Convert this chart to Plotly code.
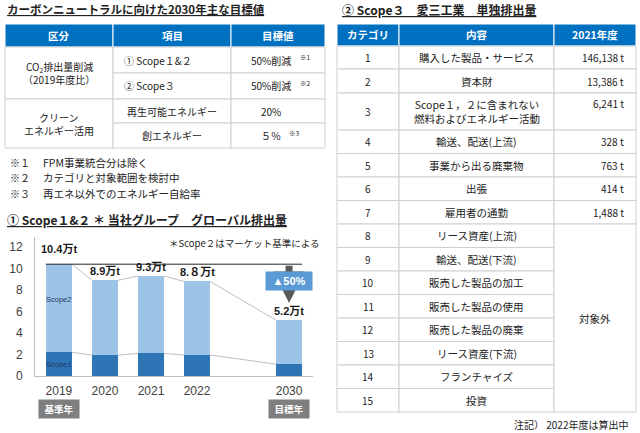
import plotly.graph_objects as go

W, H = 640, 433
JP = "Noto Sans CJK JP"
NUM = "Liberation Sans, Noto Sans CJK JP"

# ---- chart data (Scope1&2, 万t) ----
years = ["2019", "2020", "2021", "2022", "2030"]
year_pos = [0, 1, 2, 3, 5]
scope1 = [2.2, 1.95, 2.1, 1.95, 1.1]
scope2 = [8.2, 6.95, 7.2, 6.85, 4.1]
totals = [10.4, 8.9, 9.3, 8.8, 5.2]
total_labels = ["10.4万t", "8.9万t", "9.3万t", "8.８万t", "5.2万t"]
y_ticks = [0, 2, 4, 6, 8, 10, 12]
badge_text = ["基準年", "目標年"]
badge_pos = [0, 5]
reduction_text = "▲50%"

# ---- left table ----
left_header = ["区分", "項目", "目標値"]
left_groups = [["CO<sub>2</sub>排出量削減", "（2019年度比）"], ["クリーン", "エネルギー活用"]]
left_items = ["① Scope１&２", "② Scope３", "再生可能エネルギー", "創エネルギー"]
left_targets = ["50%削減", "50%削減", "20%", "５％"]
left_marks = ["※1", "※2", "", "※3"]
left_notes_mark = ["※１", "※２", "※３"]
left_notes = ["FPM事業統合分は除く", "カテゴリと対象範囲を検討中", "再エネ以外でのエネルギー自給率"]

# ---- right table ----
right_header = ["カテゴリ", "内容", "2021年度"]
categories = ["1", "2", "3", "4", "5", "6", "7", "8", "9", "10", "11", "12", "13", "14", "15"]
contents = ["購入した製品・サービス", "資本財", "Scope１，２に含まれない<br>燃料およびエネルギー活動",
            "輸送、配送(上流)", "事業から出る廃棄物", "出張", "雇用者の通勤",
            "リース資産(上流)", "輸送、配送(下流)", "販売した製品の加工", "販売した製品の使用",
            "販売した製品の廃棄", "リース資産(下流)", "フランチャイズ", "投資"]
values_2021 = ["146,138 t", "13,386 t", "6,241 t", "328 t", "763 t", "414 t", "1,488 t"]
out_of_scope = "対象外"


def px(x):
    return x / W


def py(y):
    return 1 - y / H


shapes = []
annos = []


def cell(x0, y0, x1, y1, fill="white", line="#D0D0D0"):
    shapes.append(dict(type="rect", xref="paper", yref="paper", x0=px(x0), x1=px(x1),
                       y0=py(y1), y1=py(y0), fillcolor=fill, line=dict(color=line, width=1), layer="below"))


def text(x, y, s, size=10, color="#222222", xa="center", ya="middle", bold=False, font=JP):
    if bold:
        s = "<b>" + s + "</b>"
    annos.append(dict(xref="paper", yref="paper", x=px(x), y=py(y), text=s, showarrow=False,
                      xanchor=xa, yanchor=ya, font=dict(family=font, size=size, color=color)))


# ===== left table =====
text(5, 9, "<u>カーボンニュートラルに向けた2030年主な目標値</u>", size=11.5, xa="left", bold=True)
lc = [5, 113, 231, 325]
lr = [24, 47, 73, 99, 123, 148]
for j in range(3):
    cell(lc[j], lr[0], lc[j + 1], lr[1], fill="#0070C0", line="#FFFFFF")
    text((lc[j] + lc[j + 1]) / 2, (lr[0] + lr[1]) / 2, left_header[j], size=10.5, color="white", bold=True)
for g in range(2):
    cell(lc[0], lr[1 + 2 * g], lc[1], lr[3 + 2 * g])
    gm = (lr[1 + 2 * g] + lr[3 + 2 * g]) / 2
    text((lc[0] + lc[1]) / 2, gm - 6.5, left_groups[g][0])
    text((lc[0] + lc[1]) / 2, gm + 6.5, left_groups[g][1])
mark_x = [298, 298, 0, 287]
for i in range(4):
    cell(lc[1], lr[1 + i], lc[2], lr[2 + i])
    cell(lc[2], lr[1 + i], lc[3], lr[2 + i])
    ym = (lr[1 + i] + lr[2 + i]) / 2
    if i < 2:
        text(lc[1] + 9, ym, left_items[i], xa="left")
    else:
        text((lc[1] + lc[2]) / 2, ym, left_items[i])
    text(lc[2] + 40, ym, left_targets[i])
    if left_marks[i]:
        text(mark_x[i], ym - 3, left_marks[i], size=6.5, xa="left")
for k in range(3):
    text(8, 162 + 15.5 * k, left_notes_mark[k], size=10, xa="left")
    text(41, 162 + 15.5 * k, left_notes[k], size=10.5, xa="left")

# ===== right table =====
text(340, 9, "<u>② Scope３　愛三工業　単独排出量</u>", size=12, xa="left", bold=True)
rc = [337, 399, 554, 636]
row_h = [23, 24, 37] + [23.5] * 12
rr = [46]
for h in row_h:
    rr.append(rr[-1] + h)
for j in range(3):
    cell(rc[j], 24, rc[j + 1], 46, fill="#0070C0", line="#FFFFFF")
    text((rc[j] + rc[j + 1]) / 2, 35, right_header[j], size=10.5, color="white", bold=True)
for i in range(15):
    ym = (rr[i] + rr[i + 1]) / 2
    cell(rc[0], rr[i], rc[1], rr[i + 1])
    cell(rc[1], rr[i], rc[2], rr[i + 1])
    text((rc[0] + rc[1]) / 2, ym, categories[i])
    text((rc[1] + rc[2]) / 2, ym, contents[i], size=10.5)
    if i < len(values_2021):
        cell(rc[2], rr[i], rc[3], rr[i + 1])
        vy = rr[i] + 11 if i == 2 else ym
        text(rc[3] - 10, vy, values_2021[i], xa="right")
n_val = len(values_2021)
cell(rc[2], rr[n_val], rc[3], rr[-1])
text((rc[2] + rc[3]) / 2, (rr[n_val] + rr[-1]) / 2, out_of_scope, size=10.5)
text(630, 424, "注記） 2022年度は算出中", size=10, xa="right")

# ===== chart =====
text(5, 219, "<u>① Scope１&２ ＊ 当社グループ　グローバル排出量</u>", size=12, xa="left", bold=True)
text(321, 243, "＊Scope２はマーケット基準による", size=9.5, xa="right")

bw = 0.57
hw = bw / 2
fig = go.Figure()
fig.add_trace(go.Bar(x=year_pos, y=scope1, width=bw, marker=dict(color="#2E75B6", line=dict(width=0)),
                     name="Scope1"))
fig.add_trace(go.Bar(x=year_pos, y=scope2, width=bw, marker=dict(color="#9DC3E6", line=dict(width=0)),
                     name="Scope2"))

cx, cy_t, cy_s = [], [], []
for i in range(len(year_pos) - 1):
    cx += [year_pos[i] + hw, year_pos[i + 1] - hw, None]
    cy_t += [totals[i], totals[i + 1], None]
    cy_s += [scope1[i], scope1[i + 1], None]
fig.add_trace(go.Scatter(x=cx, y=cy_t, mode="lines", line=dict(color="#BFBFBF", width=1), hoverinfo="skip"))
fig.add_trace(go.Scatter(x=cx, y=cy_s, mode="lines", line=dict(color="#BFBFBF", width=1), hoverinfo="skip"))
fig.add_trace(go.Scatter(x=[year_pos[0] - hw, year_pos[-1] + hw], y=[totals[0], totals[0]], mode="lines",
                         line=dict(color="#262626", width=1), hoverinfo="skip"))

for i, lab in enumerate(total_labels):
    annos.append(dict(x=year_pos[i], y=totals[i], xref="x", yref="y", text="<b>" + lab + "</b>",
                      showarrow=False, yanchor="bottom", yshift=7 if i == 0 else 1,
                      font=dict(family=NUM, size=11, color="#1A1A1A")))

annos.append(dict(x=year_pos[0], y=scope1[0] + scope2[0] * 0.6, xref="x", yref="y", text="Scope2",
                  showarrow=False, font=dict(family=NUM, size=7.5, color="#1F3864")))
annos.append(dict(x=year_pos[0], y=scope1[0] / 2, xref="x", yref="y", text="Scope1",
                  showarrow=False, font=dict(family=NUM, size=7.5, color="#1F3864")))

# reduction arrow
annos.append(dict(x=year_pos[-1], y=6.8, ax=year_pos[-1], ay=totals[0], xref="x", yref="y", axref="x", ayref="y",
                  text="", showarrow=True, arrowhead=2, arrowsize=0.9, arrowwidth=7, arrowcolor="#595959"))
annos.append(dict(x=year_pos[-1], y=8.84, xref="x", yref="y", text="<b>" + reduction_text + "</b>",
                  showarrow=False, bgcolor="#5B9BD5", borderpad=3, width=40,
                  font=dict(family=NUM, size=11, color="white")))

for b, p in zip(badge_text, badge_pos):
    annos.append(dict(x=p, y=py(409), xref="x", yref="paper", yanchor="middle", text="<b>" + b + "</b>",
                      showarrow=False, bgcolor="#7F7F7F", borderpad=2, width=36,
                      font=dict(family=JP, size=9.5, color="white")))

fig.update_layout(
    width=W, height=H, margin=dict(l=0, r=0, t=0, b=0, autoexpand=False),
    paper_bgcolor="white", plot_bgcolor="white", showlegend=False, barmode="stack",
    xaxis=dict(domain=[px(35), px(313)], range=[-0.52, 5.52], tickvals=year_pos, ticktext=years,
               showline=True, linecolor="#BFBFBF", showgrid=False, zeroline=False, ticks="",
               automargin=False, ticklabelstandoff=4, tickfont=dict(family=NUM, size=12, color="#404040")),
    yaxis=dict(domain=[py(376), py(237)], range=[0, 12.93], tickvals=y_ticks, showline=True,
               linecolor="#BFBFBF", showgrid=False, zeroline=False, ticks="", ticklabelstandoff=9,
               automargin=False, tickfont=dict(family=NUM, size=12, color="#404040")),
    shapes=shapes, annotations=annos,
)

fig.write_html("out.html", config={"displayModeBar": False},
               post_script="document.body.style.margin='0';")
